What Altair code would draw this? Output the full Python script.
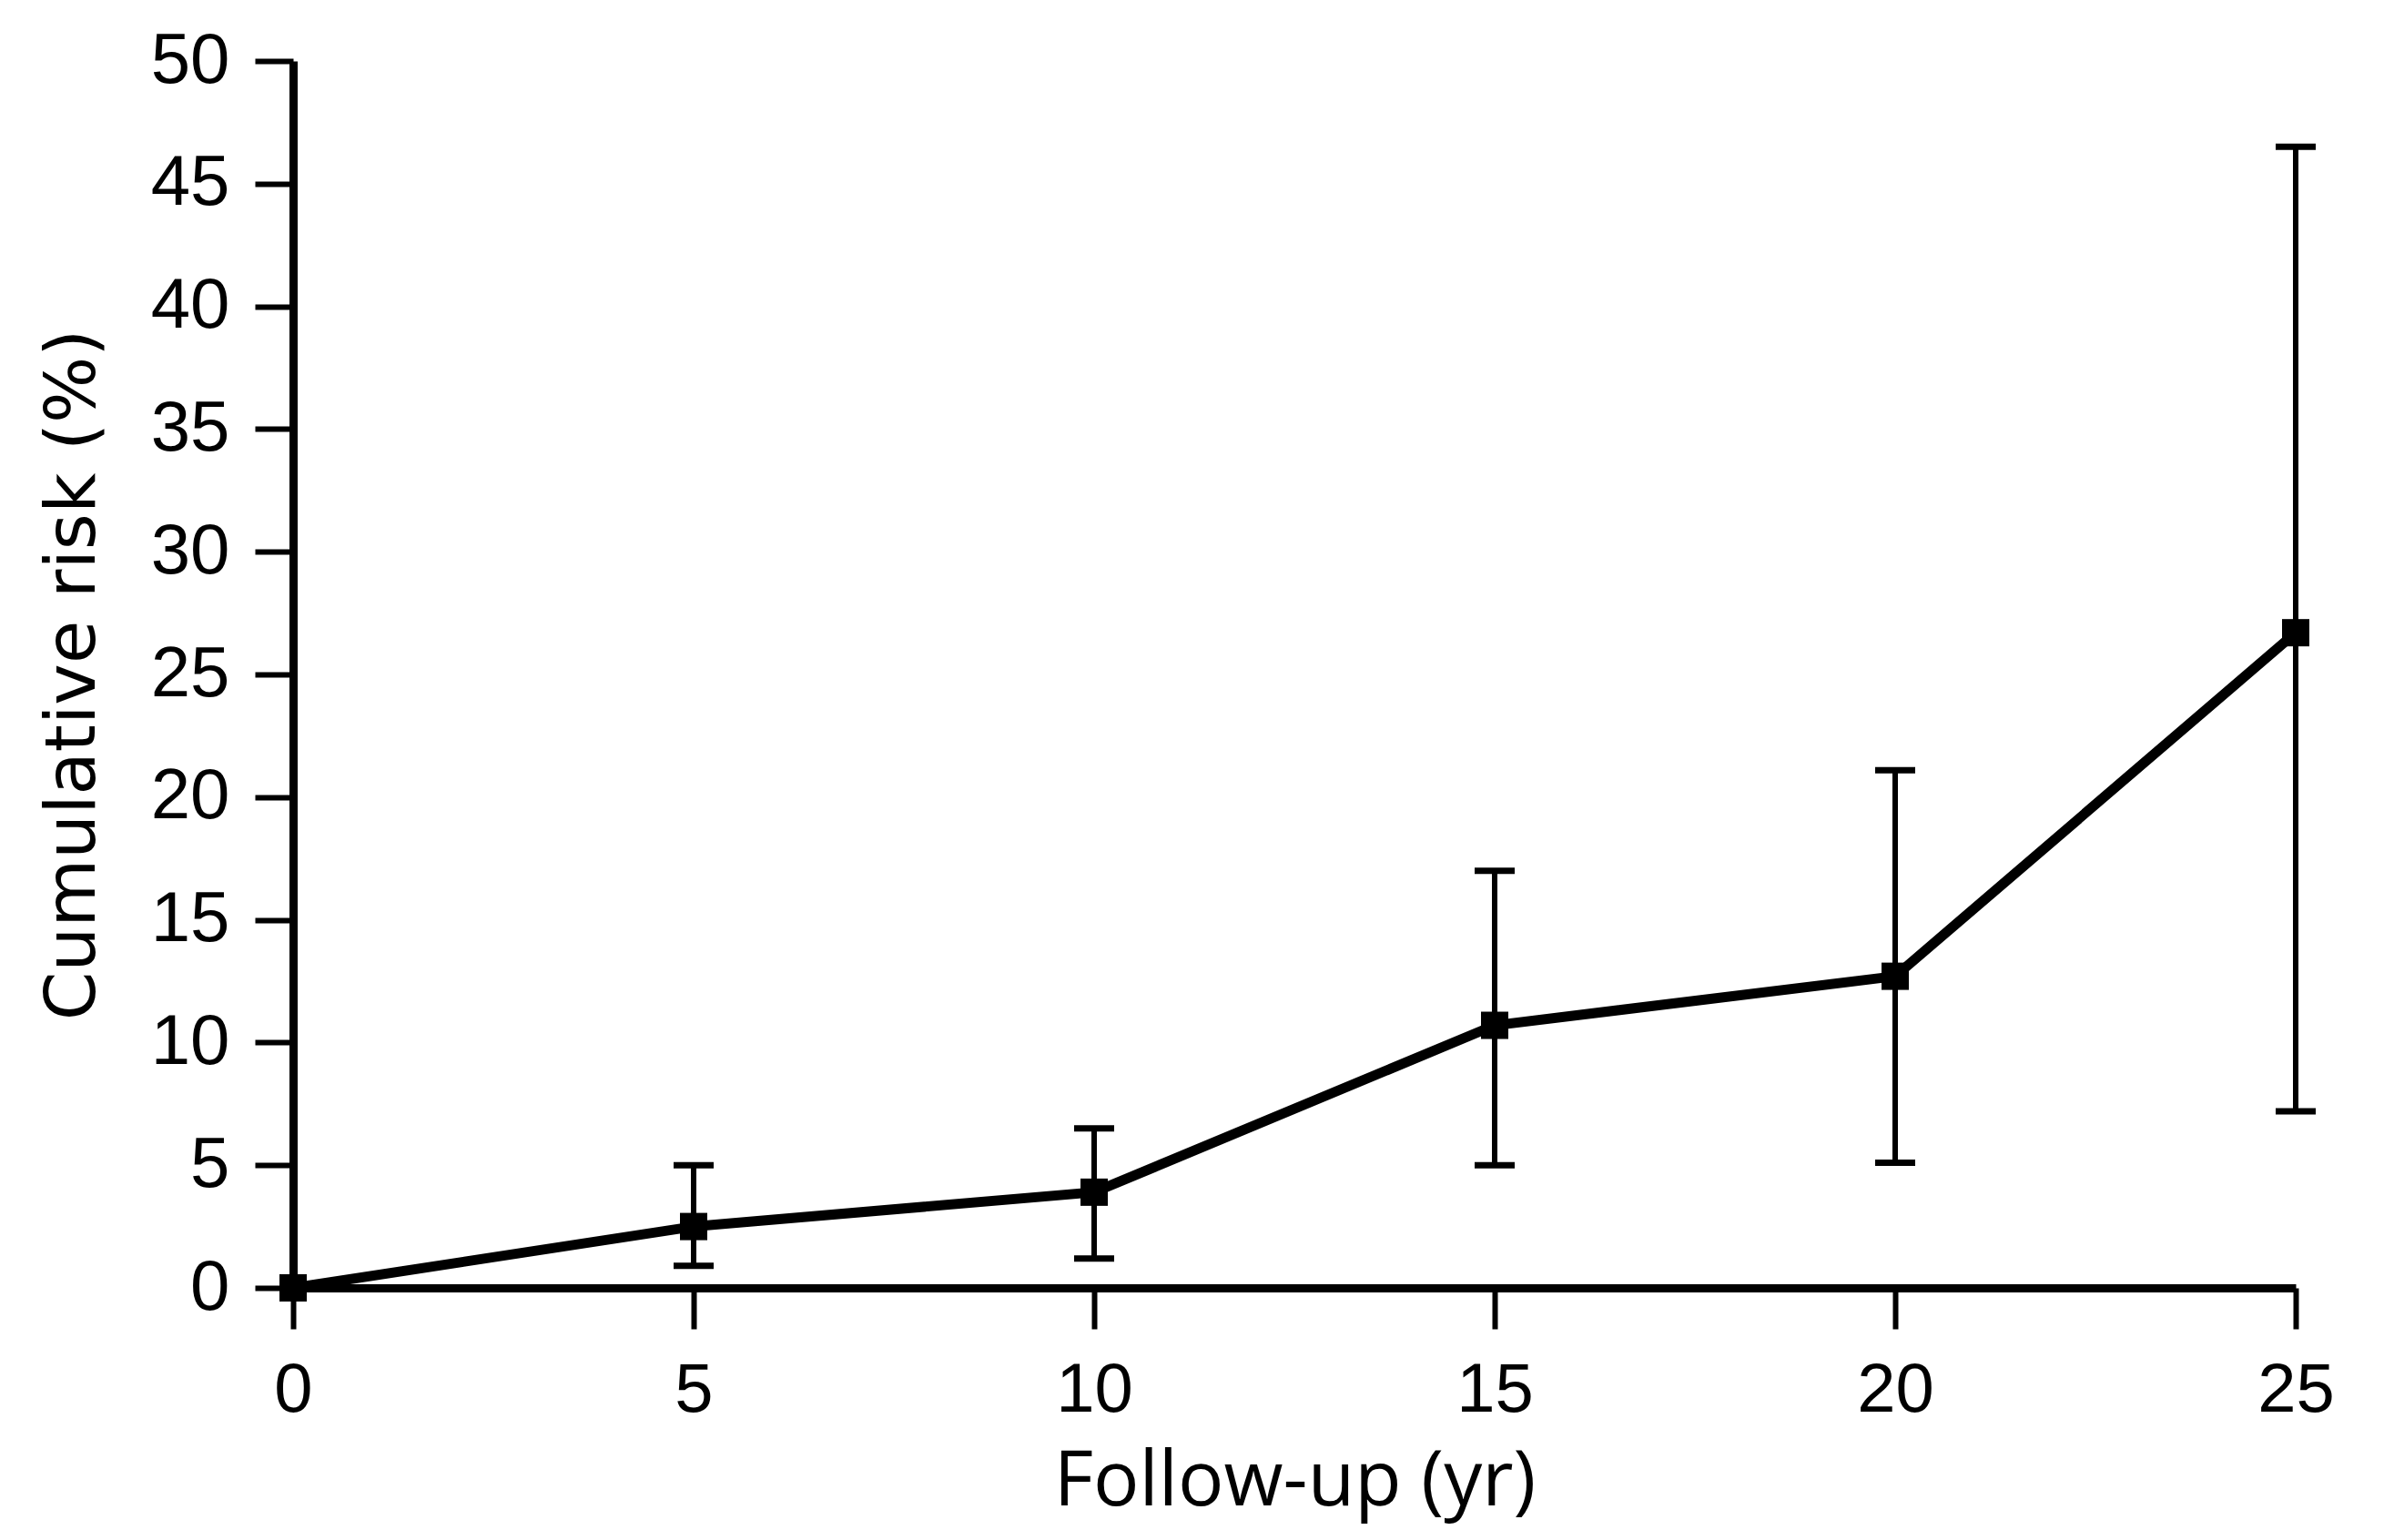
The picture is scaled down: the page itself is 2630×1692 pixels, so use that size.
import altair as alt
import pandas as pd

years = [0, 5, 10, 15, 20, 25]
risk = [0.0, 2.5, 3.9, 10.7, 12.7, 26.7]
lower = [None, 0.9, 1.2, 5.0, 5.1, 7.2]
upper = [None, 5.0, 6.5, 17.0, 21.1, 46.5]

x_ticks = [0, 5, 10, 15, 20, 25]
y_ticks = [0, 5, 10, 15, 20, 25, 30, 35, 40, 45, 50]

df = pd.DataFrame({"year": years, "risk": risk, "lower": lower, "upper": upper})

x_enc = alt.X(
    "year:Q",
    scale=alt.Scale(domain=[0, 25], nice=False, zero=False),
    axis=alt.Axis(
        values=x_ticks,
        format="d",
        labelFlush=False,
        title="Follow-up (yr)",
        grid=False,
        domainColor="black",
        domainWidth=9,
        tickColor="black",
        tickWidth=6,
        tickSize=45,
        labelPadding=30,
        labelFont="Liberation Sans",
        labelFontSize=76,
        labelColor="black",
        titleFont="Open Sans",
        titleFontSize=84,
        titleFontWeight="normal",
        titleColor="black",
        titlePadding=22,
    ),
)
y_enc = alt.Y(
    "risk:Q",
    scale=alt.Scale(domain=[0, 50], nice=False),
    axis=alt.Axis(
        values=y_ticks,
        format="d",
        labelFlush=False,
        title="Cumulative risk (%)",
        grid=False,
        domainColor="black",
        domainWidth=9,
        tickColor="black",
        tickWidth=6,
        tickSize=42,
        labelPadding=28,
        labelFont="Liberation Sans",
        labelFontSize=78,
        labelColor="black",
        titleFont="DejaVu Sans",
        titleFontSize=77,
        titleFontWeight="normal",
        titleColor="black",
        titlePadding=46,
    ),
)

base = alt.Chart(df)

line = base.mark_line(color="black", strokeWidth=11).encode(x=x_enc, y=y_enc)

points = base.mark_point(shape="square", filled=True, color="black", size=900, opacity=1).encode(
    x="year:Q", y="risk:Q"
)

bars = base.transform_filter("isValid(datum.lower)").mark_rule(color="black", strokeWidth=6).encode(
    x="year:Q", y="lower:Q", y2="upper:Q"
)

caps_top = base.transform_filter("isValid(datum.upper)").mark_tick(
    color="black", orient="horizontal", size=44, thickness=7, opacity=1
).encode(x="year:Q", y="upper:Q")

caps_bot = base.transform_filter("isValid(datum.lower)").mark_tick(
    color="black", orient="horizontal", size=44, thickness=7, opacity=1
).encode(x="year:Q", y="lower:Q")

chart = (
    alt.layer(bars, caps_top, caps_bot, line, points)
    .properties(
        width=2200,
        height=1348,
        autosize=alt.AutoSizeParams(type="none"),
        padding={"left": 314, "top": 59, "right": 100, "bottom": 269},
        background="white",
    )
    .configure_view(stroke=None)
)

chart.save("out.html", embed_options={"renderer": "svg", "actions": False})
